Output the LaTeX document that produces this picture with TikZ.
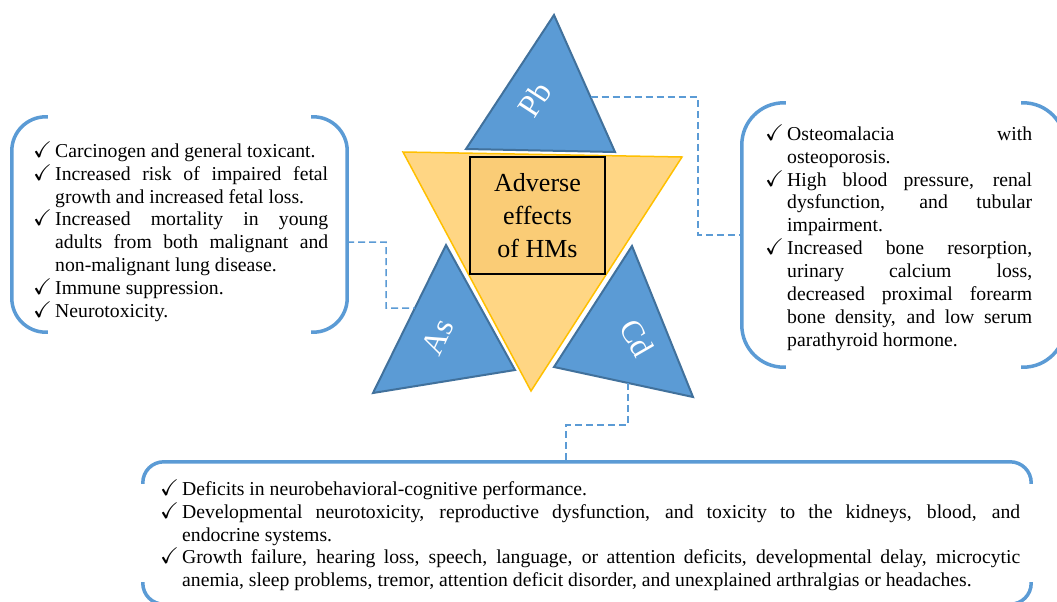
\documentclass[tikz,border=0pt]{standalone}
\usepackage{amssymb}
\usepackage{fontspec}
\setmainfont{Liberation Serif}
\usetikzlibrary{calc}
\definecolor{tblue}{RGB}{91,155,213}
\definecolor{tblueb}{RGB}{65,113,156}
\definecolor{torange}{RGB}{255,214,132}
\definecolor{torangeb}{RGB}{255,192,0}
\definecolor{tbox}{RGB}{250,204,118}
\newcommand\ckm{\makebox[22pt][l]{\scalebox{1.15}{$\checkmark$}}}
\newcommand\indt{\hspace*{22pt}}
\newcommand\jl[2]{\makebox[#1][s]{#2}}
\begin{document}
\begin{tikzpicture}[x=1pt,y=-1pt,
  tri/.style={fill=tblue,draw=tblueb,line width=2pt,line join=miter},
  tlabel/.style={text=white,font=\fontsize{32}{34}\selectfont,inner sep=0pt},
  otri/.style={fill=torange,draw=torangeb,line width=1.5pt},
  hmbox/.style={fill=tbox,draw=black,line width=1.2pt,minimum width=135pt,minimum height=117pt,inner sep=0pt,align=center,font=\fontsize{26}{33}\selectfont},
  area/.style={draw=none,inner sep=0pt},
  brk/.style={draw=tblue,line width=3.5pt,rounded corners=#1},
  dcon/.style={draw=tblue,line width=1.5pt,dash pattern=on 7pt off 4pt},
  body/.style={inner sep=0pt,align=left,anchor=north west,font=\fontsize{19.7}{22.9}\selectfont}]
\useasboundingbox (0,0) rectangle (1057,602);
\clip (0,0) rectangle (1057,602);
\fill[white] (0,0) rectangle (1057,602);

% boxes (areas)
\node[area,minimum width=335pt,minimum height=215pt] (lbox) at (179.5,224.5) {};
\node[area,minimum width=323pt,minimum height=264pt] (rbox) at (903.5,235) {};
\node[area,minimum width=888pt,minimum height=142pt] (bbox) at (587,533) {};

% brackets
\draw[brk=34] ($(lbox.north west)+(36,0)$) -- (lbox.north west) -- (lbox.south west) -- ++(36,0);
\draw[brk=34] ($(lbox.north east)+(-36,0)$) -- (lbox.north east) -- (lbox.south east) -- ++(-36,0);
\draw[brk=42] ($(rbox.north west)+(44,0)$) -- (rbox.north west) -- (rbox.south west) -- ++(44,0);
\draw[brk=42] ($(rbox.north east)+(-44,0)$) -- (rbox.north east) -- (rbox.south east) -- ++(-44,0);
\draw[brk=21] ($(bbox.north west)+(0,22)$) -- (bbox.north west) -- (bbox.north east) -- ++(0,22);
\draw[brk=21] ($(bbox.south west)+(0,-22)$) -- (bbox.south west) -- (bbox.south east) -- ++(0,-22);

% triangles
\coordinate (pbA) at (554,15); \coordinate (pbL) at (466,149); \coordinate (pbR) at (615,152);
\coordinate (asA) at (446,245); \coordinate (asL) at (373,393); \coordinate (asR) at (515,370);
\coordinate (cdA) at (632,246); \coordinate (cdL) at (554,367); \coordinate (cdR) at (693,397);
\coordinate (oL) at (403,152); \coordinate (oR) at (682,157); \coordinate (oB) at (531,391);
\draw[tri] (pbA) -- (pbL) -- (pbR) -- cycle;
\draw[tri] (asA) -- (asL) -- (asR) -- cycle;
\draw[tri] (cdA) -- (cdL) -- (cdR) -- cycle;
\draw[otri] (oL) -- (oR) -- (oB) -- cycle;
\node[hmbox] (hm) at (537.5,215.5) {Adverse\\effects\\of HMs};
\node[tlabel,rotate=57] (pb) at (535,99) {Pb};
\node[tlabel,rotate=65] (as) at (438,337) {As};
\node[tlabel,rotate=-60] (cd) at (637,338) {Cd};

% connectors
\coordinate (pbC) at ($(pbA)!0.6!(pbR)$);
\coordinate (pbK) at (698,97);
\draw[dcon] (pbC) -| (pbK |- rbox.west) -- (rbox.west);
\coordinate (asC) at ($(asA)!0.4257!(asL)$);
\coordinate (asK) at (386,308);
\draw[dcon] ($(lbox.east)+(0,17.5)$) -| (asK) -- (asC);
\coordinate (cdC) at ($(cdL)!0.532!(cdR)$);
\coordinate (cdK) at (566,425);
\draw[dcon] (cdC) |- (cdK) -- (cdK |- bbox.north);

% texts
\node[body] (ltext) at (33,141) {\strut\ckm Carcinogen and general toxicant.\\
\ckm\jl{273pt}{Increased risk of impaired fetal}\\
\indt growth and increased fetal loss.\\
\ckm\jl{273pt}{Increased mortality in young}\\
\indt\jl{273pt}{adults from both malignant and}\\
\indt non-malignant lung disease.\\
\ckm Immune suppression.\\
\ckm Neurotoxicity.};

\node[body] (rtext) at (765,124) {\strut\ckm\jl{245pt}{Osteomalacia with}\\
\indt osteoporosis.\\
\ckm\jl{245pt}{High blood pressure, renal}\\
\indt\jl{245pt}{dysfunction, and tubular}\\
\indt impairment.\\
\ckm\jl{245pt}{Increased bone resorption,}\\
\indt\jl{245pt}{urinary calcium loss,}\\
\indt\jl{245pt}{decreased proximal forearm}\\
\indt\jl{245pt}{bone density, and low serum}\\
\indt parathyroid hormone.};

\node[body] (btext) at (160,479) {\strut\ckm Deficits in neurobehavioral-cognitive performance.\\
\ckm\jl{838pt}{Developmental neurotoxicity, reproductive dysfunction, and toxicity to the kidneys, blood, and}\\
\indt endocrine systems.\\
\ckm\jl{838pt}{Growth failure, hearing loss, speech, language, or attention deficits, developmental delay, microcytic}\\
\indt anemia, sleep problems, tremor, attention deficit disorder, and unexplained arthralgias or headaches.};
\end{tikzpicture}
\end{document}
